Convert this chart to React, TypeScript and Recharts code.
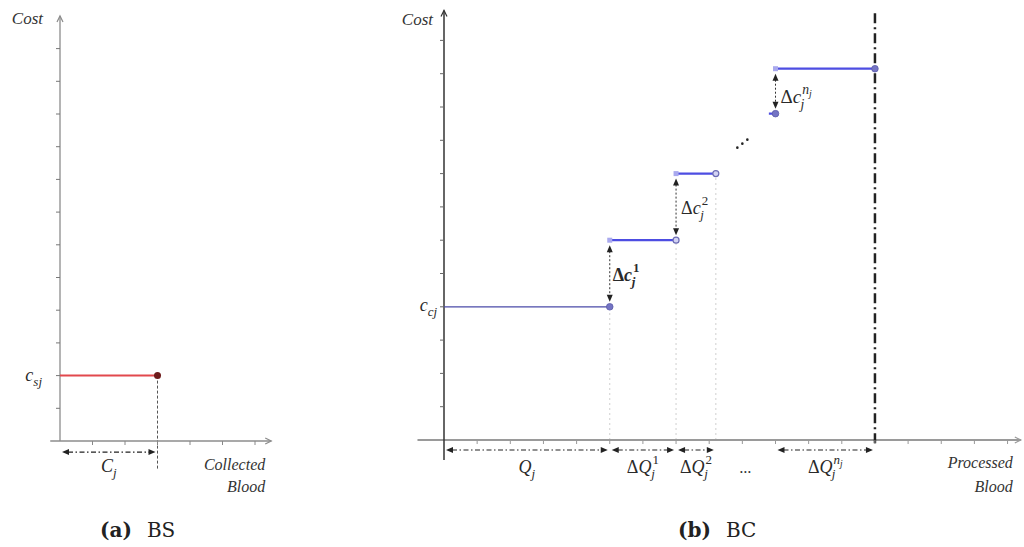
import React from "react";
import { ComposedChart, Line, XAxis, YAxis, ReferenceLine, ReferenceDot } from "recharts";

const SERIF = "'Liberation Serif', 'DejaVu Serif', serif";
const H = 547;

// (a) BS: flat collection cost up to capacity
const BS_X_TICKS = [1, 2, 3, 4, 5, 6];
const BS_Y_TICKS = [1, 2, 3, 4, 5, 6, 7, 8, 9, 10, 11, 12];
const BS_CAPACITY = 3;
const BS_COST = 2;

// (b) BC: stepwise processing cost
const BC_X_TICKS = [1, 2, 3, 4, 5, 6, 7, 8, 9, 10, 11, 12, 13, 14, 15, 16, 17];
const BC_Y_TICKS = [1, 2, 3, 4, 5, 6, 7, 8, 9, 10, 11, 12];
const STEP_FROM = [0, 5, 7, 9.8, 10];
const STEP_TO = [5, 7, 8.2, 10, 13];
const STEP_COST = [4, 6, 8, 9.8, 11.15];
const JUMP_PAIRS = [[0, 1], [1, 2], [3, 4]];
const JUMP_SUP = ["1", "2", "n"];
const BAND_FROM = [0, 5, 7, 10];
const BAND_TO = [5, 7, 8.2, 13];
const BAND_BASE = ["Q", "ΔQ", "ΔQ", "ΔQ"];
const BAND_SUP = ["", "1", "2", "n"];
const BC_LIMIT = 13;

type Frame = {
  width: number; ox: number; oy: number; ux: number; uy: number;
  x0: number; x1: number; y0: number; y1: number;
};

const BS_FRAME: Frame = { width: 300, ox: 60, oy: 441, ux: 32.5, uy: 32.7, x0: -0.3, x1: 6.5, y0: -1.2, y1: 13 };
const BC_FRAME: Frame = { width: 644, ox: 64, oy: 440, ux: 33.15, uy: 33.3, x0: -0.8, x1: 17.4, y0: -0.6, y1: 12.9 };

function marginsFor(f: Frame) {
  return {
    left: f.ox + f.x0 * f.ux,
    right: f.width - (f.ox + f.x1 * f.ux),
    top: f.oy - f.y1 * f.uy,
    bottom: H - (f.oy - f.y0 * f.uy),
  };
}

type MathLabel = { base: string; sub?: string; sup?: string; supSub?: string };

// italic letters, upright Δ and digits; sub/superscript stacked after the base
function MathText({ x, y, label, size = 18, anchor = "start", bold = false }: any) {
  const s = size * 0.72;
  const isDigit = (t: string) => /^[0-9]+$/.test(t);
  const base: string = label.base;
  const parts: any[] = [];
  if (base.startsWith("Δ")) {
    parts.push(<tspan key="d" fontStyle="normal">Δ</tspan>);
    parts.push(<tspan key="b">{base.slice(1)}</tspan>);
  } else {
    parts.push(<tspan key="b">{base}</tspan>);
  }
  if (label.sup) {
    let rise = size * 0.48;
    let back = label.sup.length * s * 0.52;
    parts.push(
      <tspan key="p" dx={1} dy={-rise} fontSize={s} fontStyle={isDigit(label.sup) ? "normal" : "italic"}>
        {label.sup}
      </tspan>,
    );
    if (label.supSub) {
      const ss = s * 0.72;
      parts.push(<tspan key="ps" dy={ss * 0.3} fontSize={ss}>{label.supSub}</tspan>);
      rise -= ss * 0.3;
      back += label.supSub.length * ss * 0.32;
    }
    if (label.sub) {
      parts.push(<tspan key="s" dx={-back - 1} dy={rise + size * 0.28} fontSize={s}>{label.sub}</tspan>);
    }
  } else if (label.sub) {
    parts.push(<tspan key="s" dy={size * 0.28} fontSize={s}>{label.sub}</tspan>);
  }
  return (
    <text x={x} y={y} textAnchor={anchor} fontFamily={SERIF} fontStyle="italic"
      fontWeight={bold ? 700 : 400} fontSize={size} fill="#2a2a2a">
      {parts}
    </text>
  );
}

const plainText = (lines: string[], dx: number, dy: number[], anchor = "end", size = 16) => (p: any) => (
  <g>
    {lines.map((t, i) => (
      <text key={t} x={p.cx + dx} y={p.cy + dy[i]} textAnchor={anchor} fontFamily={SERIF}
        fontStyle="italic" fontSize={size} fill="#333">{t}</text>
    ))}
  </g>
);

const mathAt = (label: MathLabel, dx: number, dy: number, anchor = "start", bold = false, size = 18) =>
  (p: any) => <MathText x={p.cx + dx} y={p.cy + dy} label={label} anchor={anchor} bold={bold} size={size} />;

const yTick = (color: string) => (p: any) => (
  <line x1={p.cx - 4} y1={p.cy} x2={p.cx} y2={p.cy} stroke={color} strokeWidth={1} />
);
const xTick = (color: string) => (p: any) => (
  <line x1={p.cx} y1={p.cy} x2={p.cx} y2={p.cy + 4} stroke={color} strokeWidth={1} />
);

// axis line with an open arrow head at the far end
const axisShape = (color: string, width: number, vertical: boolean) => (p: any) => {
  const { x1, y1, x2, y2 } = p;
  if (vertical) {
    const tx = x1;
    const ty = Math.min(y1, y2);
    return (
      <g stroke={color} strokeWidth={width} fill="none">
        <line x1={x1} y1={y1} x2={x2} y2={y2} />
        <polyline points={`${tx - 3},${ty + 6} ${tx},${ty} ${tx + 3},${ty + 6}`} strokeWidth={1.2} />
      </g>
    );
  }
  const tx = Math.max(x1, x2);
  const ty = y1;
  return (
    <g stroke={color} strokeWidth={width} fill="none">
      <line x1={x1} y1={y1} x2={x2} y2={y2} />
      <polyline points={`${tx - 6},${ty - 3} ${tx},${ty} ${tx - 6},${ty + 3}`} strokeWidth={1.2} />
    </g>
  );
};

// horizontal double arrow, dash-dot
const spanArrow = (p: any) => {
  const l = Math.min(p.x1, p.x2) + 2;
  const r = Math.max(p.x1, p.x2) - 2;
  const y = p.y1;
  return (
    <g>
      <line x1={l + 6} y1={y} x2={r - 6} y2={y} stroke="#222" strokeWidth={1.2} strokeDasharray="5 2.5 1.5 2.5" />
      <polygon points={`${l},${y} ${l + 7},${y - 3} ${l + 7},${y + 3}`} fill="#222" />
      <polygon points={`${r},${y} ${r - 7},${y - 3} ${r - 7},${y + 3}`} fill="#222" />
    </g>
  );
};

// vertical double arrow between two cost levels, dotted
const jumpArrow = (p: any) => {
  const x = p.x1;
  const t = Math.min(p.y1, p.y2) + 5;
  const b = Math.max(p.y1, p.y2) - 5;
  return (
    <g>
      <line x1={x} y1={t + 6} x2={x} y2={b - 6} stroke="#333" strokeWidth={1} strokeDasharray="2 2" />
      <polygon points={`${x},${t} ${x - 3},${t + 7} ${x + 3},${t + 7}`} fill="#222" />
      <polygon points={`${x},${b} ${x - 3},${b - 7} ${x + 3},${b - 7}`} fill="#222" />
    </g>
  );
};

const ellipsis = (p: any) => (
  <g fill="#222">
    <circle cx={p.cx - 5} cy={p.cy + 4} r={1.3} />
    <circle cx={p.cx} cy={p.cy} r={1.3} />
    <circle cx={p.cx + 5} cy={p.cy - 4} r={1.3} />
  </g>
);

function BsPanel() {
  const f = BS_FRAME;
  const costLine = [{ q: 0, cost: BS_COST }, { q: BS_CAPACITY, cost: BS_COST }];
  return (
    <ComposedChart width={f.width} height={H} margin={marginsFor(f)}>
      <XAxis type="number" dataKey="q" domain={[f.x0, f.x1]} hide allowDataOverflow />
      <YAxis type="number" domain={[f.y0, f.y1]} hide allowDataOverflow />

      <ReferenceLine segment={[{ x: f.x0, y: 0 }, { x: f.x1, y: 0 }]} ifOverflow="visible"
        shape={axisShape("#8c8c8c", 1.3, false)} />
      <ReferenceLine segment={[{ x: 0, y: 0 }, { x: 0, y: f.y1 }]} ifOverflow="visible"
        shape={axisShape("#8c8c8c", 1.3, true)} />
      {BS_Y_TICKS.map((t) => (
        <ReferenceDot key={`y${t}`} x={0} y={t} ifOverflow="visible" shape={yTick("#777")} />
      ))}
      {BS_X_TICKS.map((t) => (
        <ReferenceDot key={`x${t}`} x={t} y={0} ifOverflow="visible" shape={xTick("#888")} />
      ))}

      <ReferenceLine segment={[{ x: BS_CAPACITY, y: BS_COST }, { x: BS_CAPACITY, y: -0.9 }]}
        ifOverflow="visible" stroke="#555" strokeWidth={1} strokeDasharray="3 2" />
      <ReferenceLine segment={[{ x: 0, y: -0.34 }, { x: BS_CAPACITY, y: -0.34 }]}
        ifOverflow="visible" shape={spanArrow} />

      <Line data={costLine} dataKey="cost" stroke="#e2484d" strokeWidth={2} isAnimationActive={false}
        activeDot={false}
        dot={(p: any) => p.index === 1
          ? <circle key={`d${p.index}`} cx={p.cx} cy={p.cy} r={3.5} fill="#6e1c1c" />
          : <g key={`d${p.index}`} />} />

      <ReferenceDot x={0} y={f.y1} ifOverflow="visible" shape={plainText(["Cost"], -17, [8], "end", 17)} />
      <ReferenceDot x={0} y={BS_COST} ifOverflow="visible"
        shape={mathAt({ base: "c", sub: "sj" }, -18, 5, "end")} />
      <ReferenceDot x={BS_CAPACITY / 2} y={0} ifOverflow="visible"
        shape={mathAt({ base: "C", sub: "j" }, 0, 31, "middle")} />
      <ReferenceDot x={f.x1} y={0} ifOverflow="visible"
        shape={plainText(["Collected", "Blood"], -6, [29, 51])} />
    </ComposedChart>
  );
}

function BcPanel() {
  const f = BC_FRAME;
  const steps = STEP_FROM.map((from, i) => [
    { q: from, cost: STEP_COST[i] },
    { q: STEP_TO[i], cost: STEP_COST[i] },
  ]);

  const stepDot = (i: number) => (p: any) => {
    const key = `s${i}-${p.index}`;
    if (p.index === 0) {
      if (i === 0 || i === 3) return <g key={key} />;
      return <rect key={key} x={p.cx - 2.5} y={p.cy - 2.5} width={5} height={5} fill="#a9a9ee" />;
    }
    if (i === 1 || i === 2) {
      return <circle key={key} cx={p.cx} cy={p.cy} r={3} fill="#d2d2f2" stroke="#6c6cb4" strokeWidth={1.2} />;
    }
    return <circle key={key} cx={p.cx} cy={p.cy} r={3.3} fill="#7474c4" stroke="#5a5aa8" strokeWidth={0.8} />;
  };

  return (
    <ComposedChart width={f.width} height={H} margin={marginsFor(f)}>
      <XAxis type="number" dataKey="q" domain={[f.x0, f.x1]} hide allowDataOverflow />
      <YAxis type="number" domain={[f.y0, f.y1]} hide allowDataOverflow />

      {/* faint guides from each breakpoint down to the axis */}
      {[0, 1, 2].map((i) => (
        <ReferenceLine key={`g${i}`} segment={[{ x: STEP_TO[i], y: 0 }, { x: STEP_TO[i], y: STEP_COST[i] }]}
          ifOverflow="visible" stroke="#cfcfcf" strokeWidth={1} strokeDasharray="2 3" />
      ))}

      <ReferenceLine segment={[{ x: f.x0, y: 0 }, { x: f.x1, y: 0 }]} ifOverflow="visible"
        shape={axisShape("#9a9a9a", 2, false)} />
      <ReferenceLine segment={[{ x: 0, y: f.y0 }, { x: 0, y: f.y1 }]} ifOverflow="visible"
        shape={axisShape("#333", 1.5, true)} />
      {BC_Y_TICKS.map((t) => (
        <ReferenceDot key={`y${t}`} x={0} y={t} ifOverflow="visible" shape={yTick("#666")} />
      ))}
      {BC_X_TICKS.map((t) => (
        <ReferenceDot key={`x${t}`} x={t} y={0} ifOverflow="visible" shape={xTick("#999")} />
      ))}

      <ReferenceLine segment={[{ x: BC_LIMIT, y: -0.1 }, { x: BC_LIMIT, y: f.y1 - 0.05 }]}
        ifOverflow="visible" stroke="#222" strokeWidth={2.5} strokeDasharray="10 4 2 4" />

      {JUMP_PAIRS.map(([a, b]) => (
        <ReferenceLine key={`j${a}`} segment={[{ x: STEP_FROM[b], y: STEP_COST[a] }, { x: STEP_FROM[b], y: STEP_COST[b] }]}
          ifOverflow="visible" shape={jumpArrow} />
      ))}

      {BAND_FROM.map((from, i) => (
        <ReferenceLine key={`b${i}`} segment={[{ x: from, y: -0.3 }, { x: BAND_TO[i], y: -0.3 }]}
          ifOverflow="visible" shape={spanArrow} />
      ))}

      {steps.map((seg, i) => (
        <Line key={`step${i}`} data={seg} dataKey="cost" isAnimationActive={false} activeDot={false}
          stroke={i === 0 ? "#4a4aa8" : "#4d4de2"} strokeWidth={i === 0 ? 1.3 : 2.2}
          dot={stepDot(i)} />
      ))}

      <ReferenceDot x={0} y={f.y1} ifOverflow="visible" shape={plainText(["Cost"], -11, [14.6], "end", 17)} />
      <ReferenceDot x={0} y={STEP_COST[0]} ifOverflow="visible"
        shape={mathAt({ base: "c", sub: "cj" }, -7, 4, "end")} />

      {JUMP_PAIRS.map(([a, b], k) => (
        <ReferenceDot key={`jl${k}`} x={STEP_FROM[b]} y={(STEP_COST[a] + STEP_COST[b]) / 2} ifOverflow="visible"
          shape={mathAt(
            { base: "Δc", sub: "j", sup: JUMP_SUP[k], supSub: JUMP_SUP[k] === "n" ? "j" : undefined },
            k === 0 ? 3 : 5, k === 2 ? 12 : 7, "start", k === 0, k === 2 ? 19 : 18,
          )} />
      ))}

      {BAND_FROM.map((from, i) => (
        <ReferenceDot key={`bl${i}`} x={(from + BAND_TO[i]) / 2} y={0} ifOverflow="visible"
          shape={mathAt(
            { base: BAND_BASE[i], sub: "j", sup: BAND_SUP[i] || undefined, supSub: BAND_SUP[i] === "n" ? "j" : undefined },
            0, 33, "middle",
          )} />
      ))}
      <ReferenceDot x={(BAND_TO[2] + BAND_FROM[3]) / 2} y={0} ifOverflow="visible"
        shape={plainText(["..."], 0, [33], "middle", 16)} />
      <ReferenceDot x={(STEP_TO[2] + STEP_FROM[3]) / 2} y={(STEP_COST[2] + STEP_COST[3]) / 2}
        ifOverflow="visible" shape={ellipsis} />

      <ReferenceDot x={f.x1} y={0} ifOverflow="visible"
        shape={plainText(["Processed", "Blood"], -8, [28, 52])} />
    </ComposedChart>
  );
}

const captionStyle = (left: number): React.CSSProperties => ({
  position: "absolute",
  left,
  top: 518,
  fontFamily: "'DejaVu Serif', serif",
  fontSize: 20,
  color: "#222",
  whiteSpace: "nowrap",
});

export default function App() {
  return (
    <div style={{ position: "absolute", left: 0, top: 0, width: 1024, height: H, background: "#fff", overflow: "hidden" }}>
      <div style={{ position: "absolute", left: 0, top: 0 }}>
        <BsPanel />
      </div>
      <div style={{ position: "absolute", left: 380, top: 0 }}>
        <BcPanel />
      </div>
      <div style={captionStyle(100)}>
        <b>(a)</b><span style={{ marginLeft: 15 }}>BS</span>
      </div>
      <div style={captionStyle(678)}>
        <b>(b)</b><span style={{ marginLeft: 15 }}>BC</span>
      </div>
    </div>
  );
}
